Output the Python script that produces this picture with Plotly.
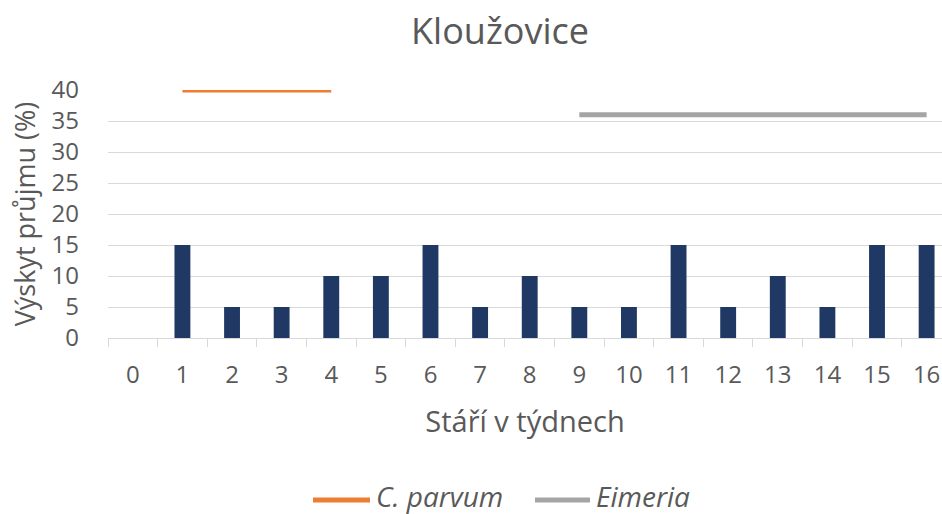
import plotly.graph_objects as go

categories = [str(i) for i in range(17)]
diarrhea = [0, 15, 5, 5, 10, 10, 15, 5, 10, 5, 5, 15, 5, 10, 5, 15, 15]
cparvum_x = ["1", "2", "3", "4"]
cparvum_y = [40, 40, 40, 40]
eimeria_x = [str(i) for i in range(9, 17)]
eimeria_y = [36] * 8

FONT = "Open Sans"
GREY = "#595959"
ORANGE = "#ED7D31"
LGREY = "#A5A5A5"

W, H = 942, 514
ML, MT, MB, MR = 108, 90, 176, 0
PW, PH = W - ML - MR, H - MT - MB


def px_to_paper_x(px):
    return (px - ML) / PW


def px_to_paper_y(py):
    return (H - MB - py) / PH


fig = go.Figure()
fig.add_trace(go.Bar(x=categories, y=diarrhea, marker=dict(color="#203864", line=dict(width=0)),
                     width=0.32, showlegend=False))
fig.add_trace(go.Scatter(x=cparvum_x, y=cparvum_y, mode="lines", name="C. parvum",
                         line=dict(color=ORANGE, width=5), cliponaxis=False, showlegend=False))
fig.add_trace(go.Scatter(x=eimeria_x, y=eimeria_y, mode="lines", name="Eimeria",
                         line=dict(color=LGREY, width=5), cliponaxis=False, showlegend=False))

# custom legend (Excel-style long line keys)
line_y = px_to_paper_y(500)
text_y = px_to_paper_y(496)
legend_items = [("C. parvum", ORANGE, 313, 370, 374), ("Eimeria", LGREY, 535, 590, 594)]
shapes, annotations = [], []
for name, col, x0, x1, tx in legend_items:
    shapes.append(dict(type="line", xref="paper", yref="paper",
                       x0=px_to_paper_x(x0), x1=px_to_paper_x(x1), y0=line_y, y1=line_y,
                       line=dict(color=col, width=5)))
    annotations.append(dict(text=f"<i>{name}</i>", xref="paper", yref="paper",
                            x=px_to_paper_x(tx), y=text_y, xanchor="left", yanchor="middle",
                            showarrow=False, font=dict(size=28, color=GREY, family=FONT)))

fig.update_layout(
    width=W, height=H,
    margin=dict(l=ML, r=MR, t=MT, b=MB),
    paper_bgcolor="white", plot_bgcolor="white",
    font=dict(family=FONT, color=GREY, size=24),
    title=dict(text="Kloužovice", x=500 / W, xref="container", xanchor="center",
               y=1 - 31 / H, yref="container", yanchor="middle",
               font=dict(size=36, color=GREY, family=FONT)),
    showlegend=False,
    shapes=shapes, annotations=annotations,
)
fig.update_xaxes(type="category", categoryorder="array", categoryarray=categories,
                 range=[-0.5, 16.31], tickson="boundaries", ticks="outside", ticklen=8,
                 tickcolor="#D9D9D9", showline=True, linecolor="#D9D9D9", linewidth=1,
                 showgrid=False, tickfont=dict(size=24, color=GREY), ticklabelstandoff=15,
                 title=dict(text="Stáří v týdnech", font=dict(size=29, color=GREY), standoff=22))
fig.update_yaxes(range=[0, 40], dtick=5, showgrid=True, gridcolor="#D9D9D9", gridwidth=1,
                 zeroline=False, showline=False, tickfont=dict(size=24, color=GREY),
                 ticklabelstandoff=28,
                 title=dict(text="Výskyt průjmu (%)", font=dict(size=27, color=GREY), standoff=8))
fig.write_html("out.html", config={"displayModeBar": False},
               post_script="document.body.style.margin='0';document.body.style.overflow='hidden';")
